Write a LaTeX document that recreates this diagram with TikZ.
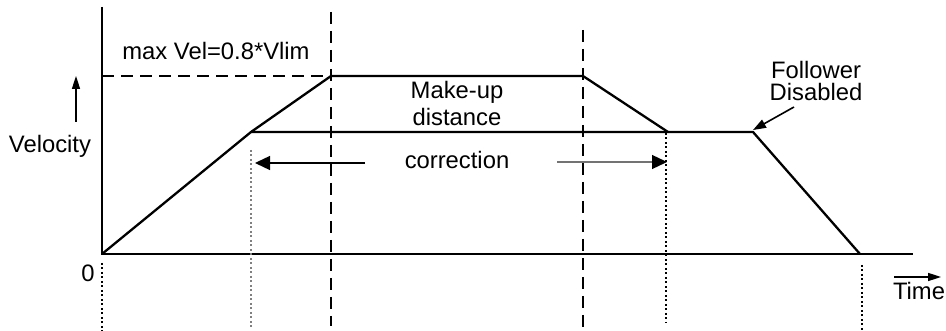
\documentclass[tikz,border=0pt]{standalone}
\usepackage{fontspec}
\setmainfont{Liberation Sans}
\usetikzlibrary{arrows.meta}
\begin{document}
\begin{tikzpicture}[x=1pt,y=-1pt,
  lbl/.style={inner sep=0pt,anchor=base,font=\fontsize{23.8}{27}\selectfont},
  curve/.style={line width=2.3pt,line join=miter},
  axis/.style={line width=2.2pt},
  dashline/.style={line width=1.8pt,dash pattern=on 12pt off 7pt},
  dotline/.style={line width=2pt,dash pattern=on 2pt off 2.5pt},
  bigarrow/.style={line width=1.3pt,-{Triangle[length=15pt,width=14pt]}},
  smallarrow/.style={line width=1.6pt,-{Triangle[length=13pt,width=8pt]}}]
\useasboundingbox (0,0) rectangle (946,331);
% key points
\coordinate (O) at (102,254);
\coordinate (ytop) at (102,7);
\coordinate (xend) at (913,254);
\coordinate (A) at (251,132);
\coordinate (B) at (331,76);
\coordinate (C) at (583,76);
\coordinate (D) at (668,132);
\coordinate (E) at (753,132);
\coordinate (F) at (860,254);
\coordinate (maxL) at (102,76);
% axes
\draw[axis] (ytop) -- (O) -- (xend);
% dashed
\draw[dashline] (maxL) -- (B);
\coordinate (v1t) at (331,12); \coordinate (v1b) at (331,326);
\coordinate (v2t) at (583,30); \coordinate (v2b) at (583,331);
\draw[dashline] (v1t) -- (v1b);
\draw[dashline] (v2t) -- (v2b);
% dotted
\coordinate (d0t) at (102,263); \coordinate (d0b) at (102,331);
\coordinate (d1t) at (251,150); \coordinate (d1b) at (251,328);
\coordinate (d2t) at (666,133); \coordinate (d2b) at (666,323);
\coordinate (d3t) at (862,265); \coordinate (d3b) at (862,331);
\draw[dotline] (d0t) -- (d0b);
\draw[dotline,black!50] (d1t) -- (d1b);
\draw[dotline] (d2t) -- (d2b);
\draw[dotline] (d3t) -- (d3b);
% profile
\draw[curve] (O) -- (A) -- (B) -- (C) -- (D);
\draw[curve] (A) -- (E) -- (F);
% correction arrows
\coordinate (cl1) at (365,163); \coordinate (cl2) at (255,163);
\coordinate (cr1) at (557,162); \coordinate (cr2) at (667,162);
\draw[bigarrow] (cl1) -- (cl2);
\draw[line width=1.3pt,draw=black!55,-{Triangle[length=15pt,width=14pt,color=black]}] (cr1) -- (cr2);
% velocity arrow
\coordinate (va1) at (76,122); \coordinate (va2) at (76,76);
\draw[smallarrow] (va1) -- (va2);
% time arrow
\coordinate (ta1) at (894,277); \coordinate (ta2) at (941,277);
\draw[smallarrow] (ta1) -- (ta2);
% follower arrow
\coordinate (fa1) at (794,107); \coordinate (fa2) at (753,130);
\draw[line width=1.6pt,-{Triangle[length=13pt,width=9pt]}] (fa1) -- (fa2);
% labels
\node[lbl] (maxv) at (216,60) {max Vel=0.8*Vlim};
\node[lbl] (vel) at (50,153) {Velocity};
\node[lbl] (mk1) at (457,99) {Make-up};
\node[lbl] (mk2) at (457,126) {distance};
\node[lbl] (corr) at (457,169) {correction};
\node[lbl] (fol1) at (816,79) {Follower};
\node[lbl] (fol2) at (816,101) {Disabled};
\node[lbl] (zero) at (88,282) {0};
\node[lbl] (time) at (919,300) {Time};
\end{tikzpicture}
\end{document}
